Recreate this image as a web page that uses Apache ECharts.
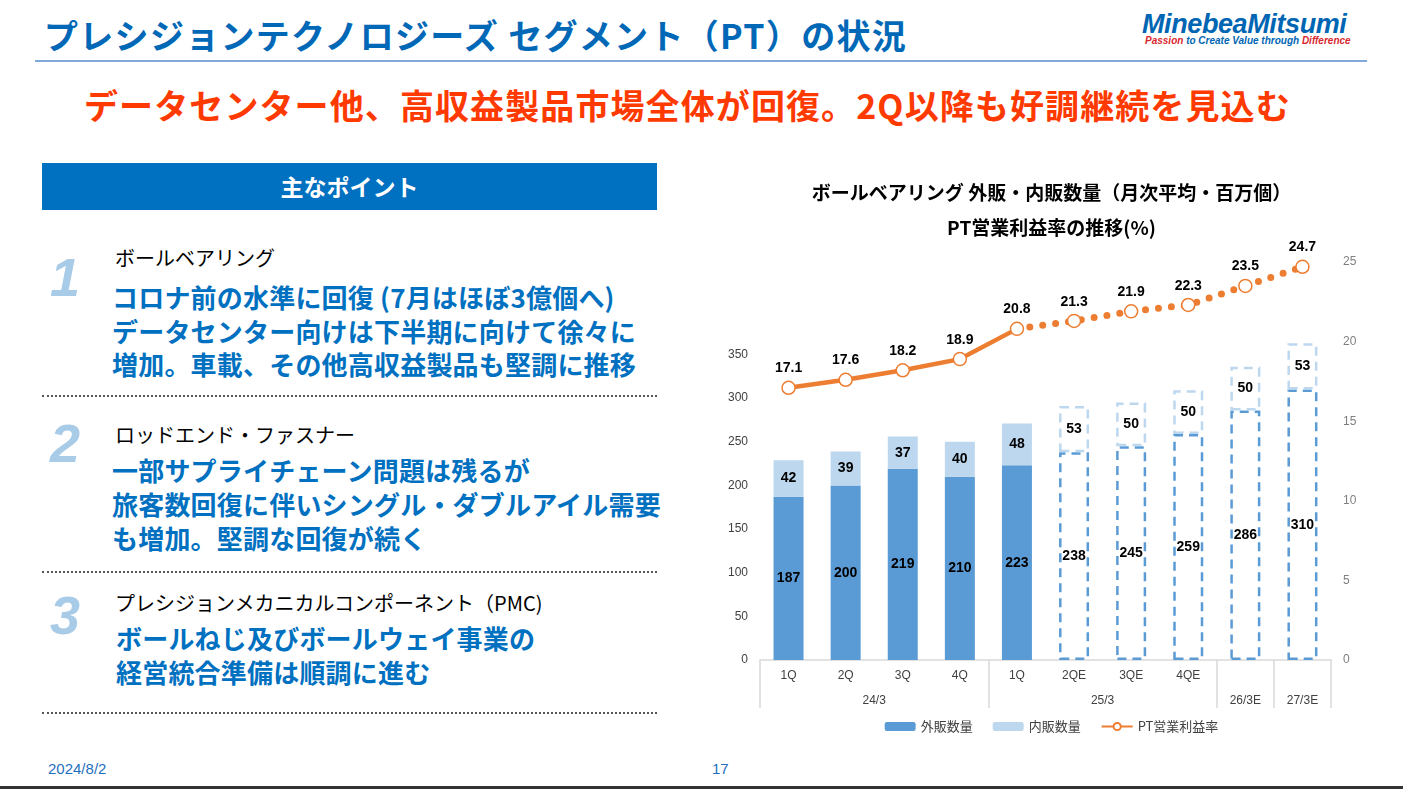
<!DOCTYPE html>
<html><head><meta charset="utf-8">
<script src="https://cdn.jsdelivr.net/npm/echarts@6/dist/echarts.min.js"></script>
<style>
html,body{margin:0;padding:0;width:1403px;height:789px;overflow:hidden;background:#fff;font-family:"Noto Sans CJK JP","Noto Sans",sans-serif;}
.abs{position:absolute;white-space:nowrap;line-height:1;}
.sep{position:absolute;left:42px;width:615px;border-top:2px dotted #555;}
.num{position:absolute;left:50px;font:italic bold 54px "Liberation Sans",Arial,sans-serif;color:#A8CBE8;line-height:1;}
.hd{position:absolute;left:115px;font-size:20px;color:#000;line-height:1;white-space:nowrap;}
.bl{position:absolute;left:112px;font-size:26px;font-weight:bold;color:#0070C0;line-height:1;white-space:nowrap;letter-spacing:0.2px;}
</style></head>
<body>
<div class="abs" style="left:44px;top:18px;font-size:34px;font-weight:bold;color:#0068B7;letter-spacing:1.3px;">プレシジョンテクノロジーズ セグメント（PT）の状況</div>
<div class="abs" style="left:1142px;top:9px;font:italic 900 27px 'Liberation Sans',Arial,sans-serif;color:#0066B3;letter-spacing:-0.4px;">MinebeaMitsumi</div>
<div class="abs" style="left:1145px;top:35px;font:italic bold 10px 'Liberation Sans',Arial,sans-serif;color:#0066B3;"><span style="color:#D7282F">Passion</span> to Create Value through <span style="color:#D7282F">Difference</span></div>
<div style="position:absolute;left:35px;top:60px;width:1332px;border-top:2px solid #7FA9DA;"></div>
<div class="abs" style="left:84px;top:88px;font-size:34px;font-weight:bold;color:#FF3A00;letter-spacing:1.1px;">データセンター他、高収益製品市場全体が回復。2Q以降も好調継続を見込む</div>

<div style="position:absolute;left:42px;top:163px;width:615px;height:47px;background:#0070C0;color:#fff;font-size:23px;font-weight:bold;text-align:center;line-height:47px;">主なポイント</div>

<div class="num" style="top:250px;">1</div>
<div class="hd" style="top:248px;">ボールベアリング</div>
<div class="bl" style="top:284px;">コロナ前の水準に回復 (7月はほぼ3億個へ)</div>
<div class="bl" style="top:318px;">データセンター向けは下半期に向けて徐々に</div>
<div class="bl" style="top:351px;">増加。車載、その他高収益製品も堅調に推移</div>
<div class="sep" style="top:395px;"></div>

<div class="num" style="top:416px;">2</div>
<div class="hd" style="top:425px;">ロッドエンド・ファスナー</div>
<div class="bl" style="top:457px;">一部サプライチェーン問題は残るが</div>
<div class="bl" style="top:491px;">旅客数回復に伴いシングル・ダブルアイル需要</div>
<div class="bl" style="top:525px;">も増加。堅調な回復が続く</div>
<div class="sep" style="top:571px;"></div>

<div class="num" style="top:588px;">3</div>
<div class="hd" style="top:593px;">プレシジョンメカニカルコンポーネント（PMC)</div>
<div class="bl" style="top:625px;left:116px;">ボールねじ及びボールウェイ事業の</div>
<div class="bl" style="top:659px;left:116px;">経営統合準備は順調に進む</div>
<div class="sep" style="top:712px;"></div>

<div class="abs" style="left:48px;top:760px;font:15px 'Liberation Sans Narrow','Liberation Sans',Arial,sans-serif;color:#1F6FC0;">2024/8/2</div>
<div class="abs" style="left:712px;top:760px;font:15px 'Liberation Sans Narrow','Liberation Sans',Arial,sans-serif;color:#1F6FC0;">17</div>
<div style="position:absolute;left:0;top:786px;width:1403px;border-top:3px solid #333;"></div>

<div id="chart" style="position:absolute;left:700px;top:0;width:703px;height:789px;"></div>
<script>
// ---- data ----
const categories = ['1Q','2Q','3Q','4Q','1Q','2QE','3QE','4QE','',''];
const groupLabels = ['24/3','25/3','26/3E','27/3E'];
const groupSizes = [4, 4, 1, 1];
const isEstimate = [false,false,false,false,false,true,true,true,true,true];
const gaihan = [187, 200, 219, 210, 223, 238, 245, 259, 286, 310];
const naihan = [42, 39, 37, 40, 48, 53, 50, 50, 50, 53];
const ptMargin = [17.1, 17.6, 18.2, 18.9, 20.8, 21.3, 21.9, 22.3, 23.5, 24.7];
const leftTicks = [0, 50, 100, 150, 200, 250, 300, 350];
const rightTicks = [0, 5, 10, 15, 20, 25];

// ---- derived ----
const DARK = '#5B9BD5', LIGHT = '#BDD7EE', ORANGE = '#ED7D31';
const boundaries = [0]; groupSizes.forEach(s => boundaries.push(boundaries[boundaries.length-1] + s));
const groupCenters = groupSizes.map((s,i) => boundaries[i] + s/2);

function barData(vals, col) {
  return vals.map((v,i) => isEstimate[i]
    ? {value: v, itemStyle: {color: 'rgba(255,255,255,0)', borderColor: col, borderWidth: 2.5, borderType: [9,6]}}
    : {value: v});
}
const lastActual = isEstimate.indexOf(true) - 1;
const solidLine = ptMargin.map((v,i) => i <= lastActual ? v : null);
const dottedLine = ptMargin.map((v,i) => i < lastActual ? null :
  (i === lastActual ? {value: v, symbol: 'none', label: {show: false}} : v));

const numFont = "'Liberation Sans Narrow','Liberation Sans',Arial,sans-serif";
const lbl = {show: true, position: 'inside', color: '#000', fontWeight: 'bold', fontSize: 14, fontFamily: numFont};
const lineLbl = {show: true, position: 'top', distance: 5, color: '#000', fontWeight: 'bold', fontSize: 14, fontFamily: numFont};

const chart = echarts.init(document.getElementById('chart'));
chart.setOption({
  animation: false,
  title: {
    text: 'ボールベアリング 外販・内販数量（月次平均・百万個）\nPT営業利益率の推移(%)',
    left: 'center', top: 170,
    textStyle: {fontSize: 19, fontWeight: 'bold', color: '#000', lineHeight: 35, fontFamily: '"Noto Sans CJK JP",sans-serif'}
  },
  legend: {
    bottom: 51, left: 'center', itemWidth: 31, itemHeight: 9, itemGap: 20,
    textStyle: {fontSize: 13, color: '#404040', fontFamily: '"Noto Sans CJK JP",sans-serif'},
    data: ['外販数量', '内販数量', 'PT営業利益率']
  },
  grid: {left: 60, right: 72, top: 262, bottom: 129},
  xAxis: [
    {type: 'category', data: categories,
     axisLine: {lineStyle: {color: '#D9D9D9', width: 1.5}}, axisTick: {show: false},
     axisLabel: {color: '#404040', fontSize: 12, margin: 10, fontFamily: "'Liberation Sans',Arial,sans-serif"}},
    {type: 'value', min: 0, max: categories.length, position: 'bottom',
     axisLine: {show: false}, splitLine: {show: false},
     axisTick: {show: true, customValues: boundaries, length: 48, inside: false, lineStyle: {color: '#D9D9D9', width: 1.5}},
     axisLabel: {customValues: groupCenters, margin: 35, color: '#404040', fontSize: 12,
       fontFamily: "'Liberation Sans',Arial,sans-serif",
       formatter: v => { const k = groupCenters.indexOf(v); return k >= 0 ? groupLabels[k] : ''; }}}
  ],
  yAxis: [
    {type: 'value', min: 0, max: 456, position: 'left',
     splitLine: {show: false}, axisLine: {show: false}, axisTick: {show: false},
     axisLabel: {customValues: leftTicks, color: '#404040', fontSize: 12, margin: 12, fontFamily: "'Liberation Sans',Arial,sans-serif"}},
    {type: 'value', min: 0, max: 25, position: 'right',
     splitLine: {show: false}, axisLine: {show: false}, axisTick: {show: false},
     axisLabel: {customValues: rightTicks, color: '#7F7F7F', fontSize: 12, margin: 12, fontFamily: "'Liberation Sans',Arial,sans-serif"}}
  ],
  series: [
    {name: '外販数量', type: 'bar', stack: 'q', barWidth: 30, itemStyle: {color: DARK},
     data: barData(gaihan, DARK), label: lbl},
    {name: '内販数量', type: 'bar', stack: 'q', barWidth: 30, itemStyle: {color: LIGHT},
     data: barData(naihan, LIGHT), label: lbl},
    {name: 'PT営業利益率', type: 'line', yAxisIndex: 1, data: solidLine, z: 3,
     lineStyle: {color: ORANGE, width: 4.5},
     symbol: 'circle', symbolSize: 13,
     itemStyle: {color: '#fff', borderColor: ORANGE, borderWidth: 1.5},
     label: lineLbl},
    {name: 'PT営業利益率', type: 'line', yAxisIndex: 1, data: dottedLine, z: 2,
     lineStyle: {color: ORANGE, width: 7, type: [0, 13], cap: 'round'},
     symbol: 'circle', symbolSize: 13,
     itemStyle: {color: '#fff', borderColor: ORANGE, borderWidth: 1.5},
     label: lineLbl}
  ]
});
</script>
</body></html>
